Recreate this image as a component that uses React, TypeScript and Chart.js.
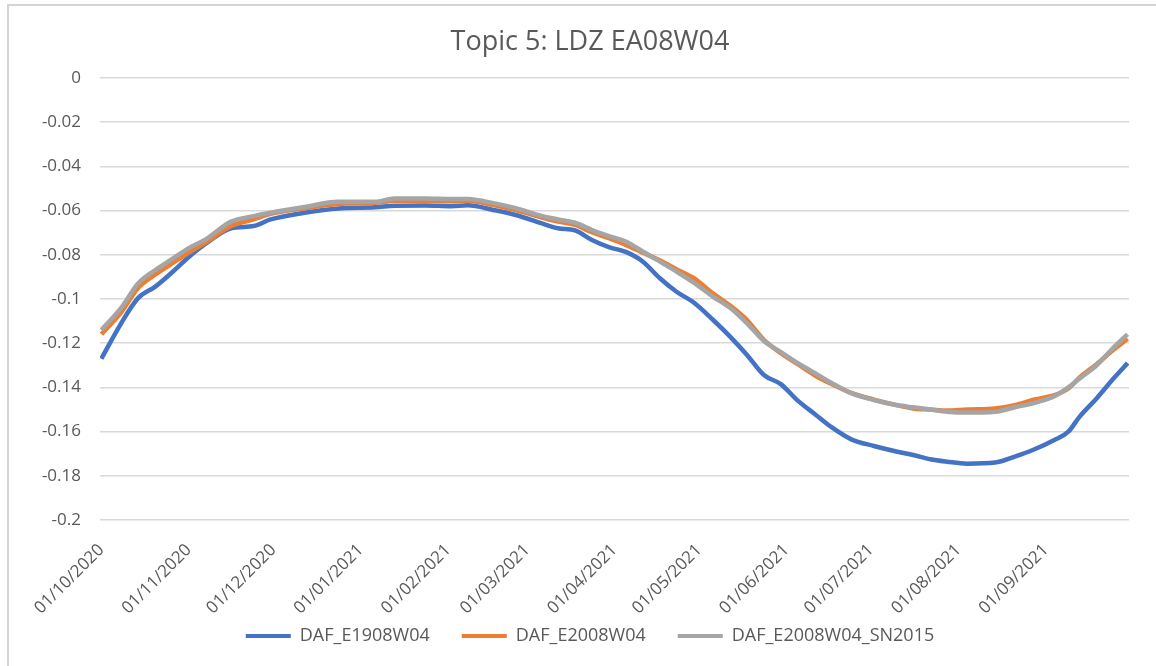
import React, { useEffect, useRef } from "react";
import { Chart, registerables } from "chart.js";

Chart.register(...registerables);

const TITLE = "Topic 5: LDZ EA08W04";
const SERIES_NAMES = ["DAF_E1908W04", "DAF_E2008W04", "DAF_E2008W04_SN2015"];
const SERIES_COLORS = ["#4472C4", "#ED7D31", "#A5A5A5"];

// day offset from 01/10/2020
const days = [
  0, 7, 13, 19, 25, 31, 37, 46, 54, 60, 72, 84, 97, 104, 115, 124, 130, 139, 147, 156,
  162, 168, 174, 180, 186, 192, 198, 204, 210, 217, 223, 229, 235, 241, 247, 253, 259,
  266, 274, 282, 288, 294, 300, 307, 317, 324, 331, 338, 343, 347, 353, 359, 364,
];

const e1908 = [
  -0.127, -0.111, -0.0996, -0.0945, -0.088, -0.081, -0.075, -0.068, -0.067, -0.064, -0.061,
  -0.059, -0.0585, -0.0578, -0.0577, -0.058, -0.0576, -0.0597, -0.062, -0.0657, -0.068,
  -0.069, -0.0733, -0.0765, -0.0787, -0.083, -0.0905, -0.0967, -0.1015, -0.1095, -0.117,
  -0.1253, -0.1344, -0.1385, -0.146, -0.152, -0.158, -0.1635, -0.1665, -0.169, -0.1706,
  -0.1725, -0.1736, -0.1745, -0.174, -0.1713, -0.168, -0.1638, -0.16, -0.1532, -0.145,
  -0.136, -0.129,
];

const e2008 = [
  -0.116, -0.106, -0.095, -0.089, -0.084, -0.079, -0.0745, -0.067, -0.064, -0.0615, -0.059,
  -0.057, -0.0565, -0.0555, -0.0555, -0.0558, -0.0555, -0.0575, -0.0598, -0.063, -0.065,
  -0.0665, -0.0698, -0.0725, -0.0755, -0.079, -0.0825, -0.0865, -0.0905, -0.0975, -0.103,
  -0.1095, -0.1185, -0.1245, -0.1295, -0.1345, -0.1385, -0.1425, -0.1455, -0.148, -0.1495,
  -0.15, -0.1505, -0.15, -0.1495, -0.148, -0.1455, -0.1435, -0.1405, -0.1355, -0.1295,
  -0.123, -0.118,
];

const e2008sn = [
  -0.114, -0.104, -0.093, -0.087, -0.082, -0.077, -0.073, -0.065, -0.0625, -0.061, -0.0584,
  -0.056, -0.056, -0.0545, -0.0545, -0.0547, -0.0548, -0.0566, -0.0589, -0.0624, -0.064,
  -0.0655, -0.0688, -0.0715, -0.074, -0.0785, -0.083, -0.0876, -0.0925, -0.099, -0.104,
  -0.111, -0.119, -0.124, -0.129, -0.1335, -0.138, -0.1426, -0.1457, -0.148, -0.149, -0.15,
  -0.151, -0.1514, -0.151, -0.149, -0.147, -0.144, -0.14, -0.136, -0.13, -0.122, -0.116,
];

const monthTickDays = [0, 31, 61, 92, 123, 151, 182, 212, 243, 273, 304, 335];
const monthLabels = [
  "01/10/2020", "01/11/2020", "01/12/2020", "01/01/2021", "01/02/2021", "01/03/2021",
  "01/04/2021", "01/05/2021", "01/06/2021", "01/07/2021", "01/08/2021", "01/09/2021",
];

const Y_MIN = -0.2;
const Y_MAX = 0;
const Y_STEP = 0.02;

const FONT = "'Open Sans', sans-serif";

const adjustPlugin = {
  id: "adjustBoxes",
  afterLayout(chart: any) {
    if (chart.titleBlock) chart.titleBlock.left = 51;
    if (chart.legend) chart.legend.left = 51;
    if (chart.scales && chart.scales.x) chart.scales.x.bottom = chart.height;
  },
};

export default function App() {
  const ref = useRef<HTMLCanvasElement>(null);

  useEffect(() => {
    if (!ref.current) return;
    const allSeries = [e1908, e2008, e2008sn];
    const chart = new Chart(ref.current, {
      type: "line",
      data: {
        datasets: allSeries.map((s, i) => ({
          label: SERIES_NAMES[i],
          data: s.map((v, j) => ({ x: days[j], y: v })),
          borderColor: SERIES_COLORS[i],
          backgroundColor: SERIES_COLORS[i],
          borderWidth: 4.5,
          pointRadius: 0,
          cubicInterpolationMode: "monotone" as const,
          order: 2 - i,
        })),
      },
      options: {
        animation: false,
        responsive: false,
        devicePixelRatio: 1,
        layout: { padding: { left: 0, right: 27, top: 0, bottom: 11 } },
        plugins: {
          title: {
            display: true,
            text: TITLE,
            color: "#595959",
            font: { family: FONT, size: 27, weight: "normal" },
            padding: { top: 26, bottom: 19.6 },
          },
          legend: {
            position: "bottom",
            labels: {
              color: "#595959",
              font: { family: FONT, size: 18 },
              boxWidth: 45,
              boxHeight: 4,
              padding: 32,
              generateLabels: (c: any) =>
                c.data.datasets.map((d: any, i: number) => ({
                  text: d.label,
                  fillStyle: d.borderColor,
                  strokeStyle: d.borderColor,
                  lineWidth: 0,
                  hidden: false,
                  datasetIndex: i,
                  fontColor: "#595959",
                })),
            },
          },
          tooltip: { enabled: false },
        },
        scales: {
          x: {
            type: "linear",
            min: -0.5,
            max: 364.5,
            grid: { display: false, drawTicks: false },
            border: { display: false },
            afterBuildTicks: (scale: any) => {
              scale.ticks = monthTickDays.map((d) => ({ value: d }));
            },
            afterFit: (scale: any) => {
              const legendH = scale.chart.legend ? scale.chart.legend.height : 60;
              scale.height = scale.chart.height - 11 - legendH - 520;
              scale.paddingLeft = 0;
              scale.paddingRight = 0;
            },
            ticks: {
              autoSkip: false,
              minRotation: 45,
              maxRotation: 45,
              padding: 20,
              color: "#595959",
              font: { family: FONT, size: 17 },
              callback: (v: any) => {
                const idx = monthTickDays.indexOf(Number(v));
                return idx >= 0 ? monthLabels[idx] : "";
              },
            },
          },
          y: {
            min: Y_MIN,
            max: Y_MAX,
            grid: { color: "#d9d9d9", lineWidth: 1.5, drawTicks: false },
            border: { display: false },
            afterFit: (scale: any) => {
              scale.width = 100;
            },
            ticks: {
              stepSize: Y_STEP,
              padding: 19,
              color: "#595959",
              font: { family: FONT, size: 17 },
              callback: (v: any) => {
                const n = Number(Number(v).toFixed(2));
                return n === 0 ? "0" : String(n);
              },
            },
          },
        },
      } as any,
      plugins: [adjustPlugin],
    });
    return () => chart.destroy();
  }, []);

  return (
    <div style={{ position: "absolute", left: 0, top: 0, width: 1156, height: 666, background: "#fff" }}>
      <div
        style={{
          position: "absolute",
          left: 7,
          top: 4,
          width: 1160,
          height: 660,
          borderLeft: "2px solid #d4d4d4",
          borderTop: "2px solid #d4d4d4",
          borderBottom: "2px solid #e4e4e4",
        }}
      />
      <canvas ref={ref} width={1156} height={666} style={{ position: "absolute", left: 0, top: 0 }} />
    </div>
  );
}
